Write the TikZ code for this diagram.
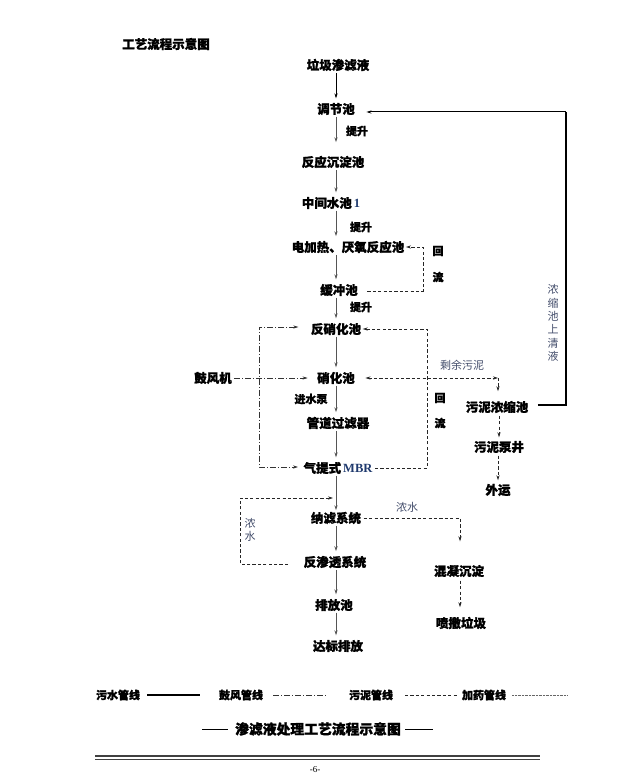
\documentclass[tikz,border=0pt]{standalone}
\usepackage{fontspec}
\setmainfont{Noto Sans CJK SC}[BoldFeatures={FakeBold=1.3}]
\newfontfamily\serifen{Liberation Serif}
\usetikzlibrary{arrows.meta}
\definecolor{notec}{HTML}{434D6B}
\definecolor{enblue}{HTML}{1F3A6E}
\definecolor{flowc}{HTML}{555555}
\tikzset{
  lbl/.style={font=\bfseries\fontsize{12.5}{14}\selectfont, inner sep=0.5pt},
  small/.style={font=\bfseries\fontsize{11}{13}\selectfont, inner sep=0pt},
  note/.style={font=\fontsize{11}{13.4}\selectfont, text=notec, inner sep=0pt, align=center},
  tip/.style={-{Stealth[length=5pt,width=3.2pt]}},
  flow/.style={draw=flowc, line width=1pt, tip, shorten <=1pt, shorten >=4pt},
  air/.style={draw=black!80, line width=0.6pt, dash pattern=on 6pt off 2pt on 1pt off 2pt},
  sludge/.style={draw=black!85, line width=0.7pt, dash pattern=on 3.2pt off 2.2pt},
  back/.style={draw=black, line width=1.8pt},
}
\begin{document}
\begin{tikzpicture}[x=1pt,y=-1pt]
\useasboundingbox[fill=white] (0,0) rectangle (634,783);
\coordinate (sp) at (336,0);

\node[lbl] (title) at (166,44) {工艺流程示意图};

% main chain
\node[lbl] (n1) at (338,65) {垃圾渗滤液};
\node[lbl] (n2) at (336,109) {调节池};
\node[lbl] (n3) at (333,162) {反应沉淀池};
\node[lbl] (n4) at (331,203) {中间水池\,{\serifen\color{enblue}1}};
\node[lbl] (n5) at (348,247) {电加热、厌氧反应池};
\node[lbl] (n6) at (339,290) {缓冲池};
\node[lbl] (n7) at (336,329) {反硝化池};
\node[lbl] (n8) at (336,378) {硝化池};
\node[lbl] (n9) at (338,423) {管道过滤器};
\node[lbl] (n10) at (338,468) {气提式\,{\serifen\color{enblue}MBR}};
\node[lbl] (n11) at (336,518) {纳滤系统};
\node[lbl] (n12) at (335,562) {反渗透系统};
\node[lbl] (n13) at (334,605) {排放池};
\node[lbl] (n14) at (338,646) {达标排放};

\node[lbl] (fj) at (213,378) {鼓风机};
\node[lbl] (s1) at (497,407) {污泥浓缩池};
\node[lbl] (s2) at (499,447) {污泥泵井};
\node[lbl] (s3) at (498,490) {外运};
\node[lbl] (h1) at (459,571) {混凝沉淀};
\node[lbl] (h2) at (461,623) {喷撒垃圾};

% small labels
\node[small] (ts1) at (357,131) {提升};
\node[small] (ts2) at (361,227) {提升};
\node[small] (ts3) at (361,307) {提升};
\node[small] (jsb) at (311,399) {进水泵};
\node[small] (hl1a) at (438,251) {回};
\node[small] (hl1b) at (438,277) {流};
\node[small] (hl2a) at (440,398) {回};
\node[small] (hl2b) at (440,423) {流};
\node[note] (syn) at (462,365) {剩余污泥};
\node[note] (nsr) at (407,507) {浓水};
\node[note] (nsl) at (250,530) {浓\\水};
\node[note] (qy) at (553,323) {浓\\缩\\池\\上\\清\\液};

% main spine arrows
\draw[flow, draw=black] (n1.south -| sp) -- (n2.north -| sp);
\draw[flow, shorten >=13pt] (n2.south -| sp) -- (n3.north -| sp);
\draw[flow] (n3.south -| sp) -- (n4.north -| sp);
\draw[flow] (n4.south -| sp) -- (n5.north -| sp);
\draw[flow] (n5.south -| sp) -- (n6.north -| sp);
\draw[flow] (n6.south -| sp) -- (n7.north -| sp);
\draw[flow] (n7.south -| sp) -- (n8.north -| sp);
\draw[flow] (n8.south -| sp) -- (n9.north -| sp);
\draw[flow] (n9.south -| sp) -- (n10.north -| sp);
\draw[flow, shorten >=1pt] (n10.south -| sp) -- (n11.north -| sp);
\draw[flow] (n11.south -| sp) -- (n12.north -| sp);
\draw[flow] (n12.south -| sp) -- (n13.north -| sp);
\draw[flow] (n13.south -| sp) -- (n14.north -| sp);

% thickener supernatant back to equalisation tank
\coordinate (rb) at (566,405);
\coordinate (rt) at (566,112);
\draw[back, shorten <=9pt] (s1.east |- rb) -- (rb) -- (rt);
\draw[draw=black, line width=1pt, tip, shorten >=11pt] (rt) -- (rt -| n2.east);

% return loop 1 (buffer -> anaerobic)
\coordinate (l1b) at (423,291);
\coordinate (l1t) at (423,247);
\draw[sludge, tip, shorten <=9pt, shorten >=1pt] (n6.east |- l1b) -- (l1b) -- (l1t) -- (n5.east |- l1t);

% return loop 2 (MBR -> denitrification)
\coordinate (l2b) at (427,468);
\coordinate (l2t) at (427,329);
\draw[sludge, tip, shorten <=2pt, shorten >=1pt] (n10.east) -- (l2b) -- (l2t) -- (n7.east);

% excess sludge
\coordinate (es) at (498,378);
\draw[sludge, {Stealth[length=5pt,width=3.2pt]}-{Stealth[length=5pt,width=3.2pt]}, shorten <=10pt] (n8.east) -- (es);
\draw[sludge, tip, shorten >=9pt] (es) -- (es |- s1.north);
\draw[sludge, tip, shorten <=2pt, shorten >=3pt] (s1.south -| s2) -- (s2.north);
\draw[sludge, tip, shorten <=2pt, shorten >=3pt] (s2.south -| s3) -- (s3.north);

% air lines
\coordinate (at) at (259,327);
\coordinate (ab) at (259,467);
\draw[air, tip, shorten <=2pt, shorten >=9pt] (fj.east) -- (n8.west);
\draw[air, {Stealth[length=5pt,width=3.2pt]}-{Stealth[length=5pt,width=3.2pt]}, shorten <=12pt, shorten >=5pt]
  (n7.west |- at) -- (at) -- (ab) -- (n10.west |- ab);

% concentrate lines
\coordinate (c1) at (240,564);
\coordinate (c2) at (240,498);
\draw[sludge, tip, shorten <=15pt, shorten >=3pt] (n12.west |- c1) -- (c1) -- (c2) -- (c2 -| sp);
\coordinate (c3) at (460,518);
\draw[sludge, tip, shorten <=2pt, shorten >=23pt] (n11.east) -- (c3) -- (c3 |- h1.north);
\draw[sludge, tip, shorten <=3pt, shorten >=9pt] (h1.south -| c3) -- (h2.north -| c3);

% legend
\tikzset{leg/.style={font=\bfseries\fontsize{11}{13}\selectfont, inner sep=0pt}}
\node[leg] (g1) at (118,695) {污水管线};
\node[leg] (g2) at (241,695) {鼓风管线};
\node[leg] (g3) at (371,695) {污泥管线};
\node[leg] (g4) at (484,695) {加药管线};
\coordinate (g1a) at (147,695); \coordinate (g1b) at (200,695);
\coordinate (g2a) at (273,695); \coordinate (g2b) at (327,695);
\coordinate (g3a) at (405,695); \coordinate (g3b) at (457,695);
\coordinate (g4a) at (512,695); \coordinate (g4b) at (567,695);
\draw[black, line width=1.2pt] (g1a) -- (g1b);
\draw[air] (g2a) -- (g2b);
\draw[sludge] (g3a) -- (g3b);
\draw[black!60, line width=0.5pt, dash pattern=on 0.6pt off 0.8pt] (g4a) -- (g4b);

% caption
\node[font=\bfseries\fontsize{13.8}{16}\selectfont, inner sep=0pt] (cap) at (318,729) {渗滤液处理工艺流程示意图};
\coordinate (d1a) at (202,729); \coordinate (d1b) at (228,729);
\coordinate (d2a) at (405,729); \coordinate (d2b) at (433,729);
\draw[black, line width=0.8pt] (d1a) -- (d1b);
\draw[black, line width=0.8pt] (d2a) -- (d2b);

% page rule and number
\coordinate (r1a) at (95,756); \coordinate (r1b) at (540,756);
\coordinate (r2a) at (95,759.6); \coordinate (r2b) at (540,759.6);
\draw[black!75, line width=2.2pt] (r1a) -- (r1b);
\draw[black!75, line width=0.7pt] (r2a) -- (r2b);
\node[font=\serifen\fontsize{9}{10}\selectfont, inner sep=0pt] (pg) at (315,770) {-6-};
\end{tikzpicture}
\end{document}
